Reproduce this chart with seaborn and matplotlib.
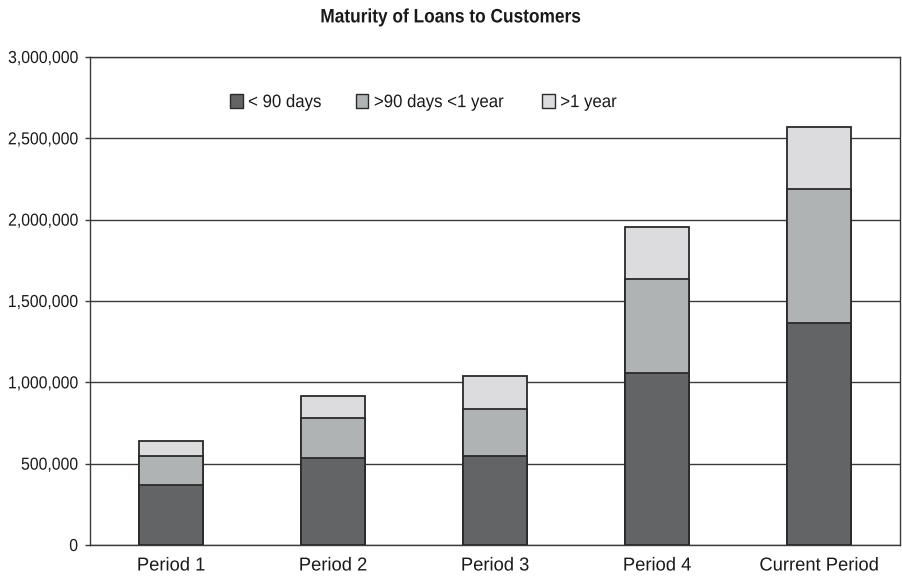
import numpy as np
import pandas as pd
import matplotlib
matplotlib.use("Agg")
import matplotlib.pyplot as plt
from matplotlib.ticker import FuncFormatter, FixedLocator, MultipleLocator
from matplotlib.patches import Patch
from matplotlib.patheffects import AbstractPathEffect
from matplotlib.transforms import Affine2D
import seaborn as sns

# Loan balances by maturity bucket
periods = ["Period 1", "Period 2", "Period 3", "Period 4", "Current Period"]
under_90_days = [370000, 532000, 545000, 1055000, 1365000]
days_90_to_1_year = [175000, 248000, 291000, 581000, 825000]
over_1_year = [96000, 134000, 201000, 320000, 377000]
series_names = ["< 90 days", ">90 days <1 year", ">1 year"]
series_colors = ["#636466", "#b0b3b4", "#dcdcde"]

sns.set_theme(style="white")
plt.rcParams["font.family"] = ["Liberation Sans", "DejaVu Sans"]


class Condense(AbstractPathEffect):
    """Squeeze glyph outlines horizontally to mimic a condensed typeface."""

    def __init__(self, factor=0.85, anchor="center"):
        super().__init__()
        self.factor = factor
        self.anchor = anchor

    def draw_path(self, renderer, gc, tpath, affine, rgbFace=None):
        bb = tpath.get_extents(affine)
        if self.anchor == "right":
            cx = bb.x1
        elif self.anchor == "left":
            cx = bb.x0
        else:
            cx = 0.5 * (bb.x0 + bb.x1)
        squeeze = Affine2D().translate(-cx, 0).scale(self.factor, 1).translate(cx, 0)
        renderer.draw_path(gc, tpath, affine + squeeze, rgbFace)


# Cumulative heights so that each layer sits on the one below it
layers = np.array([under_90_days, days_90_to_1_year, over_1_year])
cumulative = np.cumsum(layers, axis=0)

fig = plt.figure(figsize=(9.02, 5.78), dpi=100)
ax = fig.add_axes([90 / 902, 33 / 578, 810 / 902, 488 / 578])

edge = "#2a2a2a"
for i in reversed(range(3)):
    df = pd.DataFrame({"period": periods, "value": cumulative[i]})
    sns.barplot(data=df, x="period", y="value", color=series_colors[i],
                width=0.4, edgecolor=edge, linewidth=1.3, saturation=1,
                ax=ax, zorder=3)

ax.set_xlim(-0.5, len(periods) - 0.5)
ax.set_ylim(0, 3000000)
ax.yaxis.set_major_locator(MultipleLocator(500000))
ax.yaxis.set_major_formatter(FuncFormatter(lambda v, p: f"{int(v):,}"))
ax.grid(axis="y", color="#3a3a3a", linewidth=1.0, zorder=0)
ax.set_axisbelow(True)

ax.set_xlabel("")
ax.set_ylabel("")
ax.tick_params(axis="x", which="major", length=0, pad=9, labelsize=13.5, colors="#1a1a1a")
ax.xaxis.set_minor_locator(FixedLocator(np.arange(-0.5, len(periods), 1.0)))
ax.tick_params(axis="x", which="minor", length=5, width=1, color="#3a3a3a", direction="out")
ax.tick_params(axis="y", length=3.6, width=1, color="#3a3a3a", direction="out",
               pad=5.0, labelsize=12.5, labelcolor="#1a1a1a", left=True)

for side in ["left", "bottom", "right", "top"]:
    ax.spines[side].set_visible(True)
    ax.spines[side].set_color("#3a3a3a")
    ax.spines[side].set_linewidth(1.0)

handles = [Patch(facecolor=c, edgecolor=edge, linewidth=1.0) for c in series_colors]
leg = ax.legend(handles, series_names, loc="center", bbox_to_anchor=(0.414, 0.907),
                ncol=3, frameon=False, fontsize=13, handlelength=0.7, handleheight=0.85,
                handletextpad=0.3, columnspacing=1.6)
for t in leg.get_texts():
    t.set_color("#1a1a1a")
    t.set_path_effects([Condense(0.93, "left")])

fig.text(0.5, 0.969, "Maturity of Loans to Customers", ha="center", va="center",
         fontsize=14, fontweight="bold", color="#1a1a1a",
         path_effects=[Condense(0.89, "center")])

fig.canvas.draw()
for tick in ax.yaxis.get_major_ticks():
    tick.label1.set_path_effects([Condense(0.91, "right")])
for tick in ax.xaxis.get_major_ticks():
    tick.label1.set_path_effects([Condense(0.98, "center")])

fig.savefig("out.png", dpi=100, facecolor="white")
